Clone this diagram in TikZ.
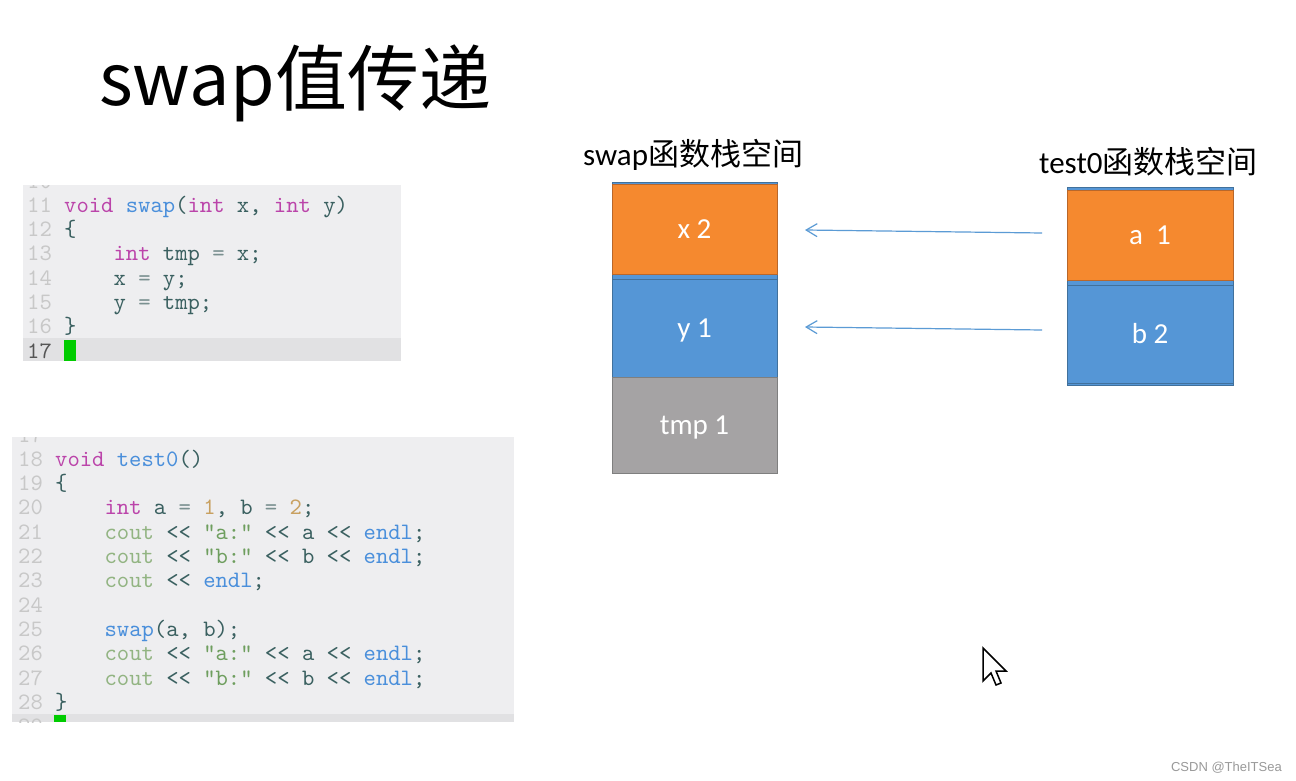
\documentclass[tikz,border=0pt]{standalone}
\usepackage{fontspec}
\setmainfont{Carlito}
\newfontfamily\cjk{Noto Sans CJK SC}
\newfontfamily\monof[Ligatures=TeXOff]{lmmono10-regular.otf}
\newfontfamily\wmfont{Liberation Sans}
\usetikzlibrary{arrows.meta}
\definecolor{codebg}{HTML}{EEEEF0}
\definecolor{codehl}{HTML}{E1E1E3}
\definecolor{lnum}{HTML}{C8C8C8}
\definecolor{lnumcur}{HTML}{555555}
\definecolor{kwc}{HTML}{BB44AA}
\definecolor{fnc}{HTML}{4A8FDB}
\definecolor{idc}{HTML}{3A6060}
\definecolor{opc}{HTML}{7A9090}
\definecolor{numc}{HTML}{C8A060}
\definecolor{strc}{HTML}{6E9E5E}
\definecolor{coutc}{HTML}{92B482}
\definecolor{curs}{HTML}{00CC00}
\definecolor{orangeC}{HTML}{F5892F}
\definecolor{orangeB}{HTML}{B9672A}
\definecolor{blueC}{HTML}{5596D6}
\definecolor{blueB}{HTML}{41719C}
\definecolor{grayC}{HTML}{A5A3A4}
\definecolor{grayB}{HTML}{7F7F7F}
\definecolor{arrowC}{HTML}{5B9BD5}
\newcommand\cdKw[1]{\textcolor{kwc}{#1}}
\newcommand\cdFn[1]{\textcolor{fnc}{#1}}
\newcommand\cdId[1]{\textcolor{idc}{#1}}
\newcommand\cdOp[1]{\textcolor{opc}{#1}}
\newcommand\cdNm[1]{\textcolor{numc}{#1}}
\newcommand\cdSt[1]{\textcolor{strc}{#1}}
\newcommand\cdCo[1]{\textcolor{coutc}{#1}}
\tikzset{
  codeline/.style={anchor=base west, inner sep=0pt, font=\monof\fontsize{23.5}{26}\selectfont, text=idc},
  lnumber/.style={codeline, text=lnum},
  stackbox/.style={draw, line width=0.8pt, inner sep=0pt, minimum width=165pt, text=white,
     font=\fontsize{29}{32}\selectfont, text height=18pt, text depth=0pt},
  stacktitle/.style={anchor=base west, inner sep=0pt, font=\fontsize{31}{34}\selectfont},
  passarrow/.style={draw=arrowC, line width=1.2pt, -{Straight Barb[length=11pt,width=13pt]}},
}
\begin{document}
\begin{tikzpicture}[x=1pt,y=-1pt]
\fill[white] (0,0) rectangle (1296,781);
\useasboundingbox (0,0) rectangle (1296,781);

% Title
\node[anchor=base west, inner sep=0pt, font=\cjk\fontsize{72}{82}\selectfont] (title) at (99,106) {swap值传递};

% Code box 1
\fill[codebg] (23,185) rectangle (401,361);
\fill[codehl] (23,338) rectangle (401,361);
\fill[curs] (64,340) rectangle (76,361);
\begin{scope}
\clip (23,185) rectangle (401,361);
\node[lnumber] (n10) at (27,188) {10};
\end{scope}
\node[lnumber] (n11) at (27,212.3) {11};
\node[lnumber] (n12) at (27,236.6) {12};
\node[lnumber] (n13) at (27,260.9) {13};
\node[lnumber] (n14) at (27,285.2) {14};
\node[lnumber] (n15) at (27,309.5) {15};
\node[lnumber] (n16) at (27,333.8) {16};
\node[lnumber, text=lnumcur] (n17) at (27,358) {17};
\node[codeline] (c11) at (64,212.3) {\cdKw{void} \cdFn{swap}(\cdKw{int} x, \cdKw{int} y)};
\node[codeline] (c12) at (64,236.6) {\{};
\node[codeline] (c13) at (113.4,260.9) {\cdKw{int} tmp \cdOp{=} x;};
\node[codeline] (c14) at (113.4,285.2) {x \cdOp{=} y;};
\node[codeline] (c15) at (113.4,309.5) {y \cdOp{=} tmp;};
\node[codeline] (c16) at (64,333.8) {\}};

% Code box 2
\fill[codebg] (12,437) rectangle (514,722);
\fill[codehl] (12,714) rectangle (514,722);
\fill[curs] (54,715) rectangle (66,722);
\begin{scope}
\clip (12,437) rectangle (514,722);
\node[lnumber] (n17b) at (18,442) {17};
\node[lnumber] (n29) at (18,733.5) {29};
\end{scope}
\node[lnumber] (n18) at (18,466.3) {18};
\node[lnumber] (n19) at (18,490.6) {19};
\node[lnumber] (n20) at (18,514.9) {20};
\node[lnumber] (n21) at (18,539.2) {21};
\node[lnumber] (n22) at (18,563.5) {22};
\node[lnumber] (n23) at (18,587.8) {23};
\node[lnumber] (n24) at (18,612.1) {24};
\node[lnumber] (n25) at (18,636.4) {25};
\node[lnumber] (n26) at (18,660.7) {26};
\node[lnumber] (n27) at (18,685) {27};
\node[lnumber] (n28) at (18,709.3) {28};
\node[codeline] (d18) at (55,466.3) {\cdKw{void} \cdFn{test0}()};
\node[codeline] (d19) at (55,490.6) {\{};
\node[codeline] (d20) at (104.4,514.9) {\cdKw{int} a \cdOp{=} \cdNm{1}, b \cdOp{=} \cdNm{2};};
\node[codeline] (d21) at (104.4,539.2) {\cdCo{cout} << \cdSt{"a:"} << a << \cdFn{endl};};
\node[codeline] (d22) at (104.4,563.5) {\cdCo{cout} << \cdSt{"b:"} << b << \cdFn{endl};};
\node[codeline] (d23) at (104.4,587.8) {\cdCo{cout} << \cdFn{endl};};
\node[codeline] (d25) at (104.4,636.4) {\cdFn{swap}(a, b);};
\node[codeline] (d26) at (104.4,660.7) {\cdCo{cout} << \cdSt{"a:"} << a << \cdFn{endl};};
\node[codeline] (d27) at (104.4,685) {\cdCo{cout} << \cdSt{"b:"} << b << \cdFn{endl};};
\node[codeline] (d28) at (55,709.3) {\}};

% swap stack
\node[stacktitle] (swaptitle) at (583,165) {swap{\cjk 函数栈空间}};
\draw[fill=blueC, draw=blueB, line width=0.8pt] (612,182) rectangle (777,377);
\node[stackbox, fill=orangeC, draw=orangeB, minimum height=90pt] (x2) at (694.5,229) {x 2};
\node[stackbox, fill=blueC, draw=blueB, minimum height=98pt] (y1) at (694.5,328) {y 1};
\node[stackbox, fill=grayC, draw=grayB, minimum height=96pt] (tmp1) at (694.5,425) {tmp 1};

% test0 stack
\node[stacktitle] (testtitle) at (1039,173) {test0{\cjk 函数栈空间}};
\draw[fill=blueC, draw=blueB, line width=0.8pt] (1067,187) rectangle (1233,385);
\node[stackbox, fill=orangeC, draw=orangeB, minimum width=166pt, minimum height=90pt] (a1) at (1150,235) {a\ \ 1};
\node[stackbox, fill=blueC, draw=blueB, minimum width=166pt, minimum height=98pt] (b2) at (1150,334) {b 2};

% arrows
\coordinate (fromA) at (1042,233);
\coordinate (toX) at (805,230);
\coordinate (fromB) at (1042,330);
\coordinate (toY) at (805,327);
\draw[passarrow] (fromA) -- (toX);
\draw[passarrow] (fromB) -- (toY);

% mouse cursor
\draw[fill=white, draw=black, line width=1.5pt, line join=miter]
  (983,648) -- (983,681) -- (991,673) -- (996,685) -- (1001,683) -- (996,671) -- (1006,671) -- cycle;

% watermark
\node[anchor=base east, inner sep=0pt, text=gray!80, font=\wmfont\fontsize{13}{15}\selectfont] (wm) at (1282,771) {CSDN @TheITSea};
\end{tikzpicture}
\end{document}
